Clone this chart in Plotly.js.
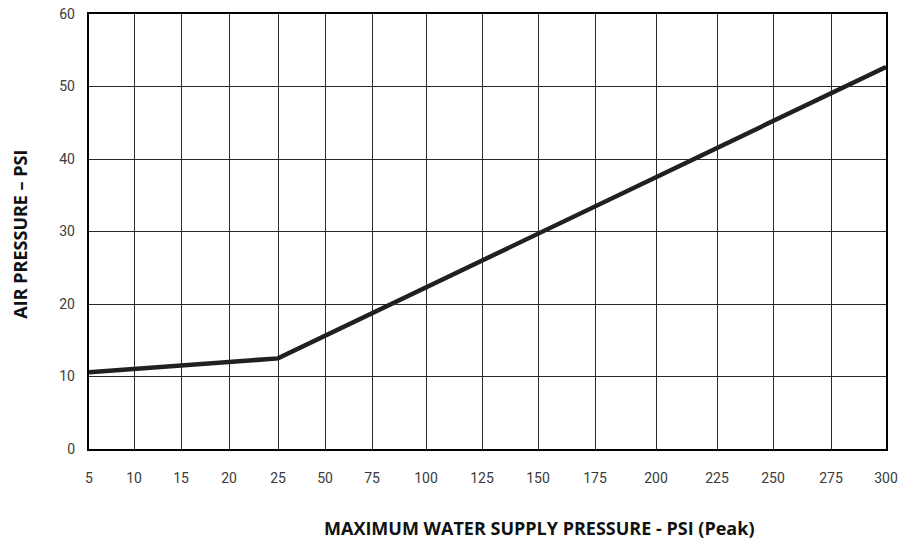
<!DOCTYPE html>
<html>
<head>
<meta charset="utf-8">
<script src="https://cdn.plot.ly/plotly-3.0.1.min.js"></script>
<style>html,body{margin:0;padding:0;background:#fff;}#chart{width:906px;height:539px;}</style>
</head>
<body>
<div id="chart"></div>
<script>
// Category labels along the x axis (max water supply pressure, psi peak)
var xCategories = ['5','10','15','20','25','50','75','100','125','150','175','200','225','250','275','300'];
// Air pressure curve (psi) read at the break points
var curveX = ['5','25','300'];
var curveY = [10.6, 12.5, 52.7];
var yTicks = [0,10,20,30,40,50,60];
var xTitle = 'MAXIMUM WATER SUPPLY PRESSURE - PSI (Peak)';
var yTitle = 'AIR PRESSURE – PSI';

// Layout: the printed grid is not evenly spaced; axis position of each category column
var xColumnPos = [0,45,92,140,189,236,283,337,393,449,506,567,628,684,742,797];

var xs = curveX.map(function(c){ return xColumnPos[xCategories.indexOf(c)]; });

var trace = {
  x: xs, y: curveY, type: 'scatter', mode: 'lines',
  line: {color: '#231f20', width: 4.5},
  hoverinfo: 'skip'
};

var titleFont = {family: 'Open Sans, Arial, sans-serif', size: 18, color: '#111', weight: 'bold'};

var layout = {
  width: 906, height: 539,
  margin: {l: 89, r: 20, t: 14, b: 90},
  paper_bgcolor: '#ffffff', plot_bgcolor: '#ffffff',
  showlegend: false,
  font: {family: 'Roboto, Arial, sans-serif', size: 14, color: '#3a3a3a'},
  xaxis: {
    type: 'linear', range: [0, 797],
    tickmode: 'array', tickvals: xColumnPos, ticktext: xCategories,
    showgrid: true, gridcolor: '#2a2a2a', gridwidth: 1,
    zeroline: false, showline: true, linecolor: '#000', linewidth: 2.2, mirror: true,
    ticks: '', ticklabelstandoff: 15,
    tickfont: {family: 'Roboto, Arial, sans-serif', size: 14, color: '#3a3a3a'}
  },
  yaxis: {
    range: [0, 60], tickmode: 'array', tickvals: yTicks,
    showgrid: true, gridcolor: '#2a2a2a', gridwidth: 1,
    zeroline: false, showline: true, linecolor: '#000', linewidth: 2.2, mirror: true,
    ticks: '', ticklabelstandoff: 9,
    tickfont: {family: 'Roboto, Arial, sans-serif', size: 14, color: '#3a3a3a'}
  },
  annotations: [
    {text: xTitle, xref: 'paper', yref: 'paper', x: 0.565, y: -0.182,
     xanchor: 'center', yanchor: 'middle', showarrow: false, font: titleFont},
    {text: yTitle, xref: 'paper', yref: 'paper', x: -0.0866, y: 0.495, textangle: -90,
     xanchor: 'center', yanchor: 'middle', showarrow: false, font: titleFont}
  ]
};

Plotly.newPlot('chart', [trace], layout, {displayModeBar: false, staticPlot: true});
</script>
</body>
</html>
